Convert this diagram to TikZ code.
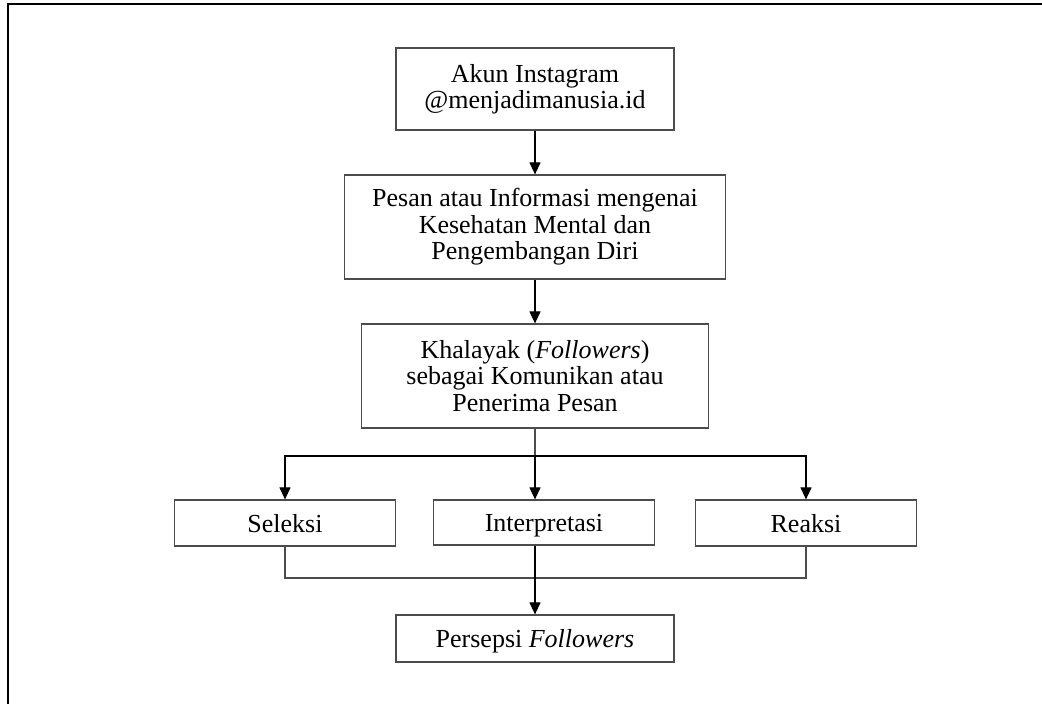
\documentclass[tikz,border=0pt]{standalone}
\usepackage{fontspec}
\setmainfont{Liberation Serif}
\usetikzlibrary{arrows.meta}

\tikzset{
  box/.style={draw=black!70,line width=1.2pt,align=center,inner sep=0pt,
    font=\fontsize{26}{26.5}\selectfont},
  oneline/.style={box,text height=18pt,text depth=0pt},
  arr/.style={line width=1.1pt,-{Triangle[width=11pt,length=12pt]}},
  link/.style={draw=black!70,line width=1.2pt}
}

\begin{document}
\begin{tikzpicture}[x=1pt,y=-1pt]
  \useasboundingbox (0,0) rectangle (1042,704);
  \draw[line width=2.4pt] (1042,4)--(8,4)--(8,704);

  \node[box,minimum width=278,minimum height=82] (akun) at (535,89)
    {Akun Instagram\\@menjadimanusia.id};
  \node[box,minimum width=381,minimum height=104] (pesan) at (535,227)
    {Pesan atau Informasi mengenai\\Kesehatan Mental dan\\Pengembangan Diri};
  \node[box,minimum width=347,minimum height=104] (khalayak) at (535,376)
    {Khalayak (\textit{Followers})\\sebagai Komunikan atau\\Penerima Pesan};
  \node[oneline,minimum width=221,minimum height=46] (seleksi) at (285,523)
    {Seleksi};
  \node[oneline,minimum width=221,minimum height=45] (interpretasi) at (544,522.5)
    {Interpretasi};
  \node[oneline,minimum width=221,minimum height=46] (reaksi) at (806,523)
    {Reaksi};
  \node[oneline,minimum width=278,minimum height=47] (persepsi) at (535,638.5)
    {Persepsi \textit{Followers}};

  \coordinate (split) at (535,456);
  \coordinate (join) at (535,578);

  \draw[arr] (akun) -- (pesan);
  \draw[arr] (pesan) -- (khalayak);
  \draw[link] (khalayak) -- (split);
  \draw[arr] (split) -| (seleksi);
  \draw[arr] (split) -| (reaksi);
  \draw[arr] (split) -- (interpretasi.north -| split);
  \draw[link] (seleksi) |- (join) -| (reaksi);
  \draw[arr] (interpretasi.south -| join) -- (persepsi);
\end{tikzpicture}
\end{document}
